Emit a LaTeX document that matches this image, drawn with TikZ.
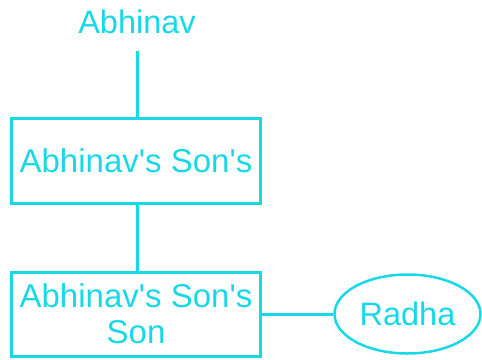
\documentclass[tikz,border=0pt]{standalone}
\usepackage{fontspec}
\setmainfont{Liberation Sans}
\usetikzlibrary{shapes.geometric}
\definecolor{cy}{RGB}{24,216,232}
\newcommand{\ap}{\textquotesingle}
\begin{document}
\begin{tikzpicture}[x=1pt,y=-1pt,
  every node/.style={text=cy, font=\fontsize{32.5}{36}\selectfont},
  boxnode/.style={draw=cy, line width=3pt, rectangle, minimum width=249pt, inner sep=0pt, align=center, font=\fontsize{33}{36}\selectfont},
  ellnode/.style={draw=cy, line width=2.5pt, ellipse, minimum width=146pt, minimum height=79pt, inner sep=0pt},
  link/.style={draw=cy, line width=3pt}]
\useasboundingbox (0,0) rectangle (482,359);
\node[anchor=base, inner sep=0pt, inner ysep=17pt] (abh) at (137,33) {Abhinav};
\node[boxnode, minimum height=85pt] (b1) at (136,160.5) {Abhinav\ap s Son\ap s};
\node[boxnode, minimum height=84pt] (b2) at (136,314) {Abhinav\ap s Son\ap s\\Son};
\node[ellnode] (radha) at (407.5,314) {Radha};
\draw[link] (abh.south) -- (abh.south |- b1.north);
\draw[link] (b1.south -| abh.south) -- (abh.south |- b2.north);
\draw[link] (b2.east) -- (radha.west);
\end{tikzpicture}
\end{document}
